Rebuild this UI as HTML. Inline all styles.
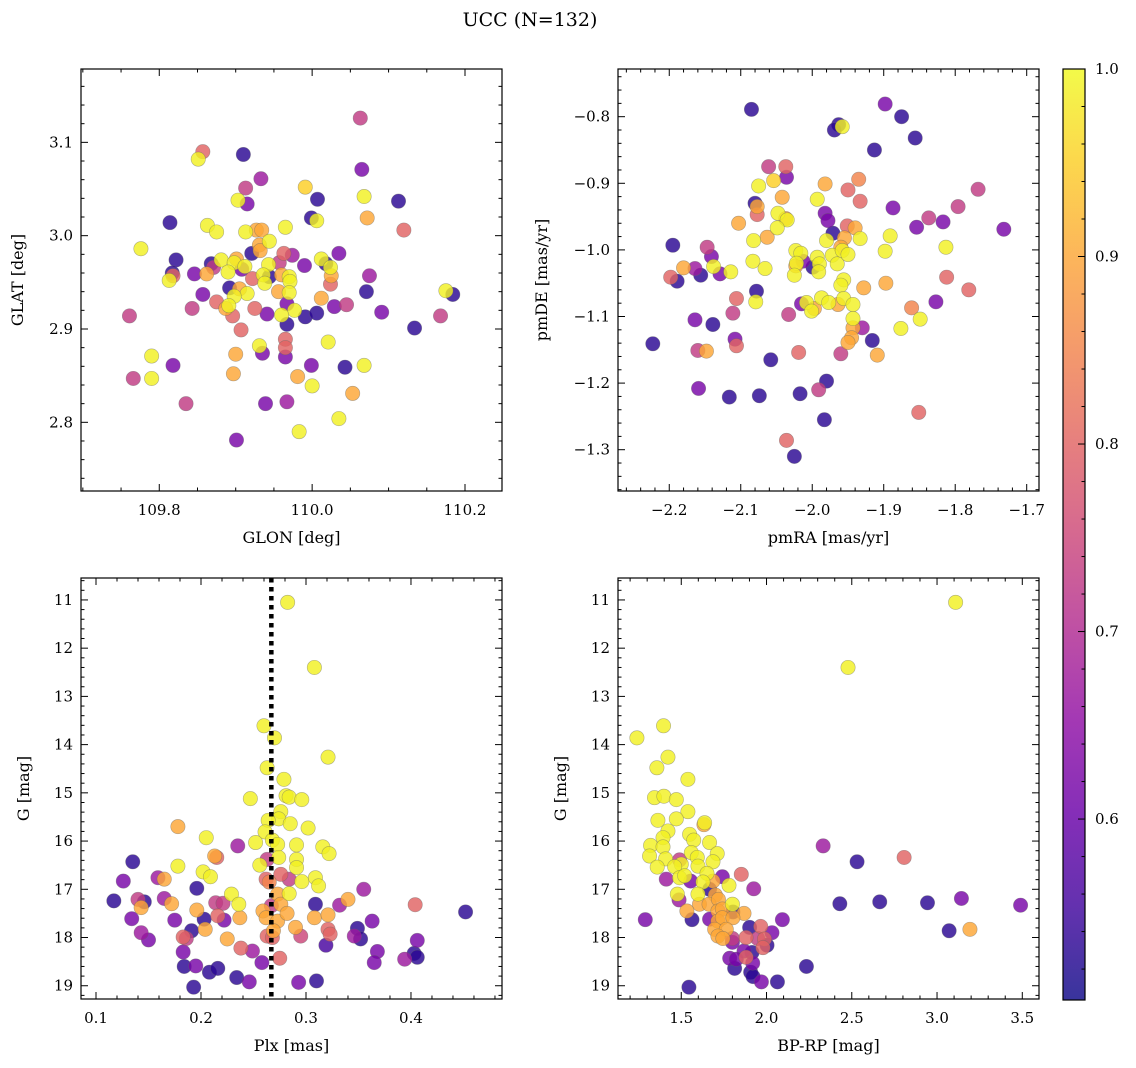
<!DOCTYPE html>
<html><head><meta charset="utf-8"><style>
html,body{margin:0;padding:0;background:#fff;}
svg{display:block;font-family:"DejaVu Serif","Liberation Serif",serif;}
</style></head><body>
<svg id="fig" width="1136" height="1068" viewBox="0 0 1136 1068" xmlns="http://www.w3.org/2000/svg">
<text x="530" y="26" font-size="19" text-anchor="middle">UCC (N=132)</text>
</svg>
<script>
// ---- Panel 1: GLON / GLAT ----
const glon=[110.063,109.857,109.851,109.910,110.065,109.933,109.913,109.991,110.068,109.903,109.915,110.007,110.113,110.072,109.999,110.006,110.120,109.814,109.863,109.875,109.913,109.927,109.934,109.965,109.776,109.931,109.944,109.932,109.822,109.921,109.963,109.974,110.035,109.868,109.871,109.881,109.898,109.901,109.912,109.908,109.943,109.957,109.990,110.012,110.018,110.024,110.025,110.024,110.075,109.817,109.818,109.813,109.846,109.862,109.890,109.922,109.936,109.944,109.938,109.960,109.970,109.971,109.892,109.905,109.915,109.898,109.857,109.956,109.970,110.071,110.175,110.184,109.761,109.843,109.875,109.887,109.891,109.896,109.925,109.941,109.967,109.977,109.960,109.967,109.991,110.006,110.012,110.029,110.045,110.091,110.134,110.168,109.907,109.965,109.965,109.965,109.935,109.931,109.900,110.021,109.790,109.818,109.766,109.790,109.897,109.999,110.043,110.068,109.981,110.000,110.053,109.835,109.939,109.967,110.035,109.983,109.901];
const glat=[3.126,3.090,3.082,3.087,3.071,3.061,3.051,3.052,3.042,3.038,3.034,3.039,3.037,3.019,3.019,3.016,3.006,3.014,3.011,3.004,3.004,3.006,3.006,3.009,2.986,2.990,2.994,2.984,2.974,2.981,2.981,2.979,2.981,2.970,2.966,2.974,2.971,2.975,2.967,2.964,2.969,2.971,2.968,2.975,2.970,2.966,2.957,2.948,2.957,2.960,2.957,2.952,2.959,2.959,2.961,2.954,2.958,2.956,2.949,2.958,2.956,2.951,2.944,2.943,2.938,2.935,2.937,2.940,2.939,2.940,2.941,2.937,2.914,2.922,2.929,2.922,2.925,2.914,2.922,2.916,2.927,2.920,2.915,2.905,2.913,2.917,2.933,2.924,2.926,2.918,2.901,2.914,2.899,2.889,2.880,2.870,2.874,2.882,2.873,2.886,2.871,2.861,2.847,2.847,2.852,2.861,2.859,2.861,2.849,2.839,2.831,2.820,2.820,2.822,2.804,2.790,2.781];
const prob1=[.73,.80,.99,.53,.62,.67,.73,.95,.99,.99,.62,.53,.53,.90,.53,.99,.80,.53,.99,.99,.99,.90,.90,.99,.99,.90,.99,.90,.53,.53,.80,.67,.62,.53,.73,.99,.99,.90,.99,.62,.99,.73,.62,.99,.53,.99,.90,.80,.67,.53,.80,.99,.62,.90,.99,.80,.99,.53,.99,.90,.99,.99,.53,.90,.99,.99,.62,.90,.99,.53,.99,.53,.73,.73,.80,.90,.99,.80,.80,.62,.62,.99,.99,.53,.53,.53,.90,.62,.73,.62,.53,.73,.80,.80,.80,.62,.62,.99,.90,.99,.99,.62,.73,.99,.90,.62,.53,.99,.90,.99,.90,.73,.62,.67,.99,.99,.62];
const xt1=[109.8,110.0,110.2], xl1=["109.8","110.0","110.2"];
const yt1=[2.8,2.9,3.0,3.1], yl1=["2.8","2.9","3.0","3.1"];
// ---- Panel 2: pmRA / pmDE ----
const pmra=[-2.085,-1.898,-1.875,-1.856,-1.963,-1.969,-1.958,-1.913,-2.061,-2.037,-2.036,-2.075,-2.054,-1.982,-1.935,-1.950,-1.933,-2.042,-1.993,-2.080,-2.077,-2.077,-2.048,-2.037,-2.035,-1.982,-1.978,-1.887,-1.768,-1.796,-1.837,-1.817,-1.854,-1.732,-2.103,-2.049,-2.082,-2.063,-1.971,-1.980,-1.951,-1.940,-1.955,-1.933,-1.891,-1.813,-1.898,-2.195,-2.147,-2.141,-2.138,-2.180,-2.164,-2.156,-2.129,-2.114,-2.198,-2.189,-2.023,-2.016,-2.022,-2.023,-2.025,-2.013,-1.999,-1.993,-1.990,-1.991,-1.972,-1.965,-1.960,-1.958,-1.950,-2.083,-2.066,-1.897,-1.928,-1.956,-1.960,-1.812,-1.781,-2.078,-2.079,-2.106,-2.111,-2.164,-2.139,-2.223,-2.108,-2.106,-2.160,-2.148,-2.015,-2.008,-1.997,-2.001,-2.033,-1.987,-1.977,-1.964,-1.956,-1.943,-1.943,-1.943,-1.930,-1.945,-1.950,-1.916,-1.876,-1.849,-1.861,-1.827,-2.019,-1.960,-1.909,-2.058,-1.980,-1.991,-2.159,-2.116,-2.074,-2.017,-1.983,-1.851,-2.036,-2.025];
const pmde=[-0.789,-0.781,-0.800,-0.832,-0.812,-0.820,-0.815,-0.850,-0.875,-0.875,-0.891,-0.904,-0.896,-0.901,-0.894,-0.910,-0.927,-0.921,-0.924,-0.930,-0.935,-0.947,-0.945,-0.953,-0.955,-0.945,-0.956,-0.937,-0.909,-0.935,-0.952,-0.958,-0.966,-0.969,-0.960,-0.967,-0.986,-0.981,-0.975,-0.986,-0.964,-0.967,-0.982,-0.983,-0.979,-0.996,-1.002,-0.993,-0.996,-1.010,-1.025,-1.027,-1.028,-1.038,-1.036,-1.033,-1.041,-1.047,-1.001,-1.005,-1.020,-1.024,-1.038,-1.017,-1.026,-1.011,-1.021,-1.033,-1.008,-1.021,-0.996,-1.001,-1.007,-1.017,-1.028,-1.050,-1.057,-1.045,-1.053,-1.041,-1.060,-1.062,-1.078,-1.073,-1.095,-1.105,-1.112,-1.141,-1.134,-1.144,-1.151,-1.152,-1.081,-1.079,-1.088,-1.092,-1.097,-1.072,-1.079,-1.082,-1.073,-1.082,-1.103,-1.117,-1.117,-1.132,-1.139,-1.136,-1.118,-1.104,-1.087,-1.078,-1.154,-1.156,-1.158,-1.165,-1.197,-1.210,-1.208,-1.221,-1.219,-1.216,-1.255,-1.244,-1.286,-1.310];
const prob2=[.53,.62,.53,.53,.53,.53,.99,.53,.73,.80,.62,.99,.95,.90,.85,.80,.80,.90,.99,.53,.90,.80,.99,.90,.99,.62,.62,.62,.73,.73,.73,.62,.62,.62,.90,.99,.99,.90,.53,.99,.80,.90,.90,.99,.99,.99,.99,.53,.73,.62,.99,.90,.67,.53,.62,.99,.80,.53,.99,.99,.99,.90,.99,.62,.53,.99,.99,.99,.99,.99,.90,.99,.99,.99,.99,.90,.90,.99,.99,.80,.80,.53,.99,.80,.73,.62,.53,.53,.62,.80,.73,.90,.62,.99,.90,.99,.73,.99,.99,.90,.99,.99,.99,.90,.67,.90,.90,.53,.99,.99,.85,.62,.80,.73,.90,.53,.53,.73,.62,.53,.53,.53,.53,.80,.80,.53];
const xt2=[-2.2,-2.1,-2.0,-1.9,-1.8,-1.7], xl2=["−2.2","−2.1","−2.0","−1.9","−1.8","−1.7"];
const yt2=[-1.3,-1.2,-1.1,-1.0,-0.9,-0.8], yl2=["−1.3","−1.2","−1.1","−1.0","−0.9","−0.8"];
// ---- Panel 3: Plx / G ----
const plx=[0.2825,0.308,0.260,0.270,0.321,0.263,0.279,0.247,0.281,0.284,0.296,0.276,0.274,0.264,0.285,0.302,0.178,0.205,0.261,0.268,0.273,0.252,0.291,0.316,0.322,0.235,0.213,0.215,0.263,0.274,0.291,0.291,0.256,0.178,0.135,0.126,0.159,0.165,0.202,0.209,0.276,0.262,0.265,0.284,0.296,0.309,0.312,0.355,0.196,0.117,0.140,0.146,0.143,0.165,0.172,0.229,0.236,0.214,0.221,0.273,0.284,0.276,0.267,0.309,0.332,0.340,0.404,0.452,0.134,0.175,0.196,0.203,0.216,0.222,0.237,0.259,0.262,0.273,0.282,0.308,0.321,0.363,0.143,0.150,0.191,0.204,0.183,0.186,0.225,0.263,0.269,0.268,0.290,0.295,0.321,0.323,0.349,0.346,0.352,0.319,0.406,0.183,0.238,0.249,0.368,0.365,0.394,0.403,0.406,0.184,0.195,0.208,0.216,0.258,0.275,0.234,0.246,0.293,0.310,0.193];
const gmag3=[11.05,12.40,13.61,13.86,14.26,14.48,14.72,15.12,15.06,15.09,15.14,15.39,15.54,15.57,15.64,15.73,15.70,15.93,15.81,15.98,16.07,16.03,16.08,16.12,16.26,16.10,16.31,16.34,16.38,16.34,16.38,16.55,16.50,16.52,16.43,16.83,16.76,16.79,16.64,16.74,16.69,16.79,16.85,16.79,16.84,16.76,16.93,17.00,16.98,17.24,17.21,17.26,17.38,17.19,17.30,17.10,17.31,17.28,17.29,17.10,17.09,17.31,17.34,17.31,17.33,17.21,17.32,17.47,17.61,17.64,17.43,17.62,17.55,17.64,17.59,17.45,17.59,17.66,17.50,17.59,17.53,17.66,17.90,18.05,17.86,17.83,17.99,18.02,18.03,17.97,17.86,18.00,17.79,17.97,17.83,17.93,17.81,17.97,18.03,18.16,18.06,18.30,18.22,18.28,18.29,18.52,18.45,18.33,18.41,18.60,18.59,18.72,18.64,18.52,18.43,18.83,18.92,18.93,18.90,19.03];
const prob3=[.99,.99,.99,.99,.99,.99,.99,.99,.99,.99,.99,.99,.99,.99,.99,.99,.90,.99,.99,.99,.99,.99,.99,.99,.99,.67,.90,.80,.73,.99,.99,.99,.99,.99,.53,.62,.67,.90,.99,.99,.80,.80,.85,.73,.99,.99,.99,.67,.53,.53,.73,.53,.90,.67,.90,.99,.99,.73,.73,.90,.99,.90,.73,.53,.67,.90,.80,.53,.62,.62,.90,.53,.80,.62,.90,.90,.90,.90,.90,.90,.90,.62,.67,.62,.53,.90,.80,.73,.90,.80,.90,.80,.90,.75,.80,.80,.53,.67,.53,.56,.62,.62,.80,.67,.62,.62,.67,.53,.53,.53,.62,.53,.53,.62,.80,.53,.62,.62,.53,.53];
const plxLine=[0.267];
const xt3=[0.1,0.2,0.3,0.4], xl3=["0.1","0.2","0.3","0.4"];
const yt3=[11,12,13,14,15,16,17,18,19], yl3=["11","12","13","14","15","16","17","18","19"];
// ---- Panel 4: BP-RP / G ----
const bprp=[3.109,2.478,1.240,1.396,1.422,1.357,1.539,1.343,1.398,1.471,1.539,1.363,1.471,1.422,1.393,1.633,1.637,1.549,1.573,1.666,1.320,1.393,1.314,1.408,1.559,1.594,1.711,1.686,1.598,1.359,1.490,1.500,1.461,1.651,2.332,2.531,2.807,1.412,1.490,1.520,1.555,1.627,1.686,1.741,1.852,1.780,1.925,1.666,1.477,1.487,1.598,1.700,1.607,1.663,1.718,1.800,2.430,2.664,2.944,3.143,3.490,1.533,1.715,1.741,1.803,1.868,1.289,1.563,1.666,1.715,1.741,1.803,2.093,1.696,1.764,1.901,1.966,2.032,1.715,1.744,1.800,1.880,1.948,1.988,2.003,1.979,3.071,3.193,1.800,1.868,1.915,1.880,1.784,1.823,1.919,1.813,1.907,1.921,1.970,2.064,2.234,1.545];
const gmag4=[11.05,12.40,13.86,13.61,14.26,14.48,14.72,15.10,15.07,15.14,15.39,15.57,15.54,15.79,15.93,15.66,15.62,15.86,15.98,16.03,16.09,16.12,16.31,16.37,16.24,16.34,16.26,16.43,16.52,16.54,16.39,16.48,16.53,16.67,16.10,16.43,16.34,16.79,16.76,16.72,16.83,16.85,16.83,16.74,16.69,16.92,16.99,17.00,17.10,17.22,17.10,17.12,17.31,17.31,17.21,17.31,17.30,17.26,17.28,17.19,17.33,17.45,17.45,17.41,17.47,17.50,17.63,17.63,17.62,17.66,17.59,17.59,17.63,17.83,17.83,17.79,17.77,17.90,17.97,18.02,18.02,18.00,18.02,18.03,18.16,18.21,17.86,17.83,18.10,18.28,18.31,18.41,18.43,18.45,18.53,18.64,18.72,18.81,18.92,18.92,18.60,19.03];
const prob4=[.99,.99,.99,.99,.99,.99,.99,.99,.99,.99,.99,.99,.99,.99,.99,.90,.99,.99,.99,.99,.99,.99,.99,.99,.99,.99,.99,.99,.99,.99,.73,.99,.99,.99,.67,.53,.80,.67,.99,.99,.62,.99,.90,.62,.80,.99,.67,.53,.99,.67,.99,.90,.90,.90,.90,.99,.53,.53,.53,.62,.62,.90,.90,.90,.53,.90,.62,.53,.62,.90,.90,.90,.62,.90,.90,.53,.80,.62,.90,.90,.73,.80,.73,.80,.53,.80,.53,.90,.62,.62,.53,.80,.62,.62,.62,.53,.53,.53,.62,.53,.53,.53];
const xt4=[1.5,2.0,2.5,3.0,3.5], xl4=["1.5","2.0","2.5","3.0","3.5"];
// ---- Colorbar ----
const cbTicks=[0.6,0.7,0.8,0.9,1.0], cbLabels=["0.6","0.7","0.8","0.9","1.0"];
const VMIN=0.5035, VMAX=1.0;

const NS="http://www.w3.org/2000/svg";
const svg=document.getElementById('fig');
function mk(tag,attrs,parent){const e=document.createElementNS(NS,tag);for(const k in attrs)e.setAttribute(k,attrs[k]);(parent||svg).appendChild(e);return e;}
const PL=["#0d0887","#41049d","#6a00a8","#8f0da4","#b12a90","#cc4778","#e16462","#f2844b","#fca636","#fcce25","#f0f921"];
function hex(h){return [parseInt(h.substr(1,2),16),parseInt(h.substr(3,2),16),parseInt(h.substr(5,2),16)];}
function plasma(t){t=Math.max(0,Math.min(1,t));const f=t*10,i=Math.min(9,Math.floor(f)),r=f-i;const a=hex(PL[i]),b=hex(PL[i+1]);return "rgb("+a.map((v,k)=>Math.round(v+(b[k]-v)*r)).join(",")+")";}
function cmap(p){return plasma((p-VMIN)/(VMAX-VMIN));}

function panel(o){
  const g=mk('g',{});
  
  
  const sx=v=>o.L+(v-o.x0)/(o.x1-o.x0)*(o.R-o.L);
  const sy=o.invert? (v=>o.T+(v-o.y0)/(o.y1-o.y0)*(o.B-o.T)) : (v=>o.B-(v-o.y0)/(o.y1-o.y0)*(o.B-o.T));
  const n=Math.min(o.xs.length,o.ys.length,o.cs.length);
  const idx=[...Array(n).keys()].sort((a,b)=>o.cs[a]-o.cs[b]);
  const pg=mk('g',{},g);
  for(const i of idx){
    const c=mk('circle',{cx:sx(o.xs[i]),cy:sy(o.ys[i]),r:7.2,fill:cmap(o.cs[i]),'fill-opacity':0.82,stroke:'#666','stroke-opacity':0.5,'stroke-width':0.6},pg);
    
    
  }
  if(o.vline){for(const v of o.vline){const l=mk('line',{x1:sx(v),x2:sx(v),y1:o.T,y2:o.B,stroke:'#000','stroke-width':4.5,'stroke-dasharray':'4.5,4.5'},g);
    
    }}
  const fr=mk('rect',{x:o.L,y:o.T,width:o.R-o.L,height:o.B-o.T,fill:'none',stroke:'#000','stroke-width':1.2},g);
  
  
  const tg=mk('g',{stroke:'#000','stroke-width':1},g);
  const xlo=Math.min(o.x0,o.x1),xhi=Math.max(o.x0,o.x1),ylo=Math.min(o.y0,o.y1),yhi=Math.max(o.y0,o.y1);
  for(let k=Math.ceil(xlo/o.xm-1e-6);k*o.xm<=xhi+1e-9;k++){const v=k*o.xm,x=sx(v);const maj=o.xt.some(t=>Math.abs(t-v)<o.xm/3);const len=maj?7:3.5;
    mk('line',{x1:x,x2:x,y1:o.B,y2:o.B-len},tg);mk('line',{x1:x,x2:x,y1:o.T,y2:o.T+len},tg);}
  for(let k=Math.ceil(ylo/o.ym-1e-6);k*o.ym<=yhi+1e-9;k++){const v=k*o.ym,y=sy(v);const maj=o.yt.some(t=>Math.abs(t-v)<o.ym/3);const len=maj?7:3.5;
    mk('line',{x1:o.L,x2:o.L+len,y1:y,y2:y},tg);mk('line',{x1:o.R,x2:o.R-len,y1:y,y2:y},tg);}
  o.xt.forEach((v,i)=>{const t=mk('text',{x:sx(v),y:o.B+24,'font-size':15,'text-anchor':'middle'},g);t.textContent=o.xl[i];
    
    });
  o.yt.forEach((v,i)=>{const t=mk('text',{x:o.L-8,y:sy(v)+5,'font-size':15,'text-anchor':'end'},g);t.textContent=o.yl[i];
    
    });
  const xa=mk('text',{x:(o.L+o.R)/2,y:o.B+52,'font-size':16,'text-anchor':'middle'},g);xa.textContent=o.xlabel;
  
  
  const yx=o.ylx,yy=(o.T+o.B)/2;
  const ya=mk('text',{x:yx,y:yy,'font-size':16,'text-anchor':'middle',transform:`rotate(-90 ${yx} ${yy})`},g);ya.textContent=o.ylabel;
  
  
}
panel({name:'glon-glat-panel',L:81,R:502,T:69,B:491,x0:109.6976,x1:110.2484,y0:2.7264,y1:3.1786,xs:glon,ys:glat,cs:prob1,xt:xt1,xl:xl1,yt:yt1,yl:yl1,xm:0.05,ym:0.02,xlabel:'GLON [deg]',ylabel:'GLAT [deg]',ylx:23});
panel({name:'pm-panel',L:618,R:1039,T:69,B:491,x0:-2.2717,x1:-1.6828,y0:-1.362,y1:-0.7284,xs:pmra,ys:pmde,cs:prob2,xt:xt2,xl:xl2,yt:yt2,yl:yl2,xm:0.02,ym:0.02,xlabel:'pmRA [mas/yr]',ylabel:'pmDE [mas/yr]',ylx:547});
panel({name:'plx-g-panel',L:81,R:502,T:578,B:999,x0:0.0857,x1:0.4867,y0:10.545,y1:19.275,invert:true,xs:plx,ys:gmag3,cs:prob3,xt:xt3,xl:xl3,yt:yt3,yl:yl3,xm:0.02,ym:0.2,xlabel:'Plx [mas]',ylabel:'G [mag]',ylx:29,vline:plxLine});
panel({name:'cmd-panel',L:618,R:1039,T:578,B:999,x0:1.129,x1:3.598,y0:10.545,y1:19.275,invert:true,xs:bprp,ys:gmag4,cs:prob4,xt:xt4,xl:xl4,yt:yt3,yl:yl3,xm:0.1,ym:0.2,xlabel:'BP-RP [mag]',ylabel:'G [mag]',ylx:566});

(function(){
  const L=1063,R=1085,T=69,B=1000;
  const defs=mk('defs',{});
  const lg=mk('linearGradient',{id:'cbg',x1:0,y1:1,x2:0,y2:0},defs);
  PL.forEach((c,i)=>mk('stop',{offset:i/10,'stop-color':c},lg));
  const g=mk('g',{});
  
  
  mk('rect',{x:L,y:T,width:R-L,height:B-T,fill:'url(#cbg)','fill-opacity':0.82},g);
  mk('rect',{x:L,y:T,width:R-L,height:B-T,fill:'none',stroke:'#000','stroke-width':1.2},g);
  const sy=v=>B-(v-VMIN)/(VMAX-VMIN)*(B-T);
  for(let k=Math.ceil(VMIN/0.02);k*0.02<=VMAX+1e-9;k++){const v=k*0.02,y=sy(v);const maj=cbTicks.some(t=>Math.abs(t-v)<0.005);
    mk('line',{x1:R,x2:R-(maj?7:3.5),y1:y,y2:y,stroke:'#000','stroke-width':1},g);}
  cbTicks.forEach((v,i)=>{const t=mk('text',{x:R+10,y:sy(v)+5,'font-size':15},g);t.textContent=cbLabels[i];
    
    });
})();
</script>
</body></html>
